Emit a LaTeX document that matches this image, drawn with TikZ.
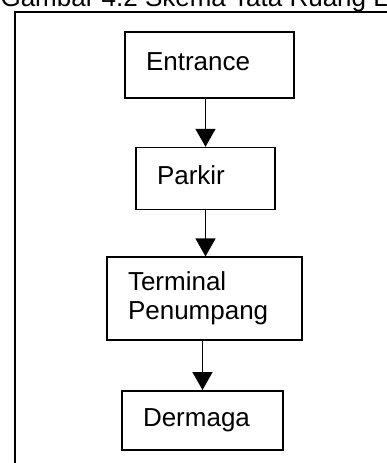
\documentclass[tikz,border=0pt]{standalone}
\usepackage{fontspec}
\setmainfont{Liberation Sans}
\usetikzlibrary{arrows.meta,positioning}
\newcommand{\boxfont}{\fontsize{26}{29}\selectfont}
\newcommand{\lbox}[2]{\parbox{#1}{\raggedright\strut #2\strut}}

\begin{document}
\begin{tikzpicture}
[x=1pt,y=1pt,
edge/.style={black,line width=1.5pt,-{Triangle[width=20pt,length=18pt]}},
block/.style={draw=black,line width=1.6pt,inner xsep=21pt,inner ysep=0pt,font=\boxfont},
frame/.style={black,line width=1.4pt}]
%%
\useasboundingbox (0,0) rectangle (387,-463);
\fill[white] (0,0) rectangle (387,-463);
\clip (0,0) rectangle (387,-463);
%%
\node (title) [anchor=base west,font=\boxfont] at (-3,-6.5) {Gambar 4.2 Skema Tata Ruang L};
\draw[frame] (15,-470) -- (15,-12) -- (395,-12);
%%
\node[block,minimum height=66pt] (entrance) at (209.5,-65) {\lbox{127pt}{Entrance}};
%%
\node (parkir) [block,below=48pt of entrance,xshift=-4pt,minimum height=62pt] {\lbox{97pt}{Parkir}};
%%
\node (terminal) [block,below=46pt of parkir,xshift=-1pt,minimum height=83pt] {\lbox{153pt}{Terminal\\Penumpang}};
%%
\node (dermaga) [block,below=49pt of terminal,xshift=-2pt,minimum height=59pt] {\lbox{119pt}{Dermaga}};
%%
\draw[edge] (parkir.north |- entrance.south) -- (parkir.north);
\draw[edge] (parkir.south) -- (parkir.south |- terminal.north);
\draw[edge] (dermaga.north |- terminal.south) -- (dermaga.north);
\end{tikzpicture}
\end{document}
